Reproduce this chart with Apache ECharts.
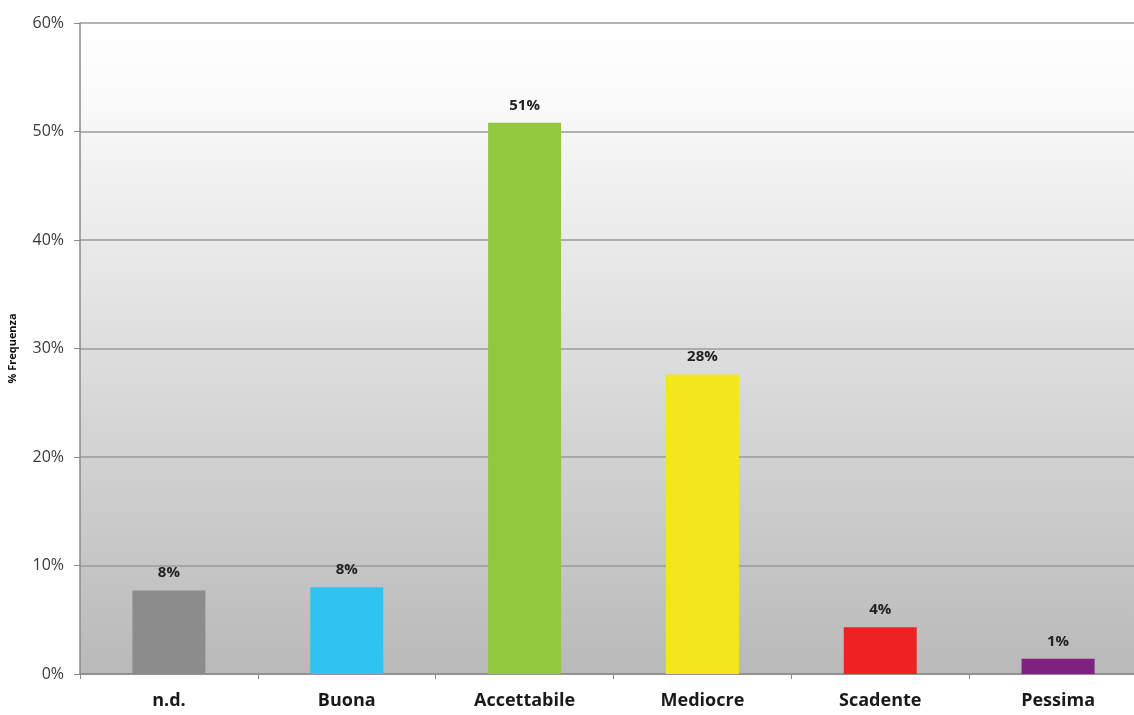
<!DOCTYPE html>
<html>
<head>
<meta charset="utf-8">
<script src="https://cdn.jsdelivr.net/npm/echarts@6/dist/echarts.min.js"></script>
<style>
  html, body { margin: 0; padding: 0; background: #fff; }
  #chart { width: 1134px; height: 715px; }
</style>
</head>
<body>
<div id="chart"></div>
<script>
// data
const categories = ['n.d.', 'Buona', 'Accettabile', 'Mediocre', 'Scadente', 'Pessima'];
const frequency = [7.7, 8.0, 50.8, 27.6, 4.3, 1.4];
const barColors = ['#8c8c8c', '#2ec3f1', '#92c83e', '#f2e71d', '#ee2222', '#7e2181'];
const yTicks = [0, 10, 20, 30, 40, 50, 60];

const chart = echarts.init(document.getElementById('chart'));

const option = {
    animation: false,
    grid: {
        left: 80,
        width: 1067,
        top: 23,
        bottom: 41,
        outerBoundsMode: 'none',
        show: true,
        borderWidth: 0,
        backgroundColor: {
            type: 'linear', x: 0, y: 0, x2: 0, y2: 1,
            colorStops: [
                {offset: 0, color: '#ffffff'},
                {offset: 0.1, color: '#fbfbfb'},
                {offset: 1, color: '#b9b9b9'}
            ]
        }
    },
    xAxis: {
        type: 'category',
        data: categories,
        axisLine: {lineStyle: {color: '#8a8a8a', width: 1.5}},
        axisTick: {show: true, length: 5, lineStyle: {color: '#8a8a8a'}},
        axisLabel: {
            color: '#1a1a1a',
            fontFamily: 'Open Sans',
            fontWeight: 'bold',
            fontSize: 18,
            margin: 18
        }
    },
    yAxis: {
        type: 'value',
        min: yTicks[0],
        max: yTicks[yTicks.length - 1],
        interval: 10,
        name: '% Frequenza',
        nameLocation: 'middle',
        nameGap: 62,
        nameRotate: 90,
        nameTextStyle: {
            color: '#111',
            fontFamily: 'Open Sans',
            fontWeight: 'bold',
            fontSize: 11
        },
        axisLine: {show: true, lineStyle: {color: '#8a8a8a', width: 1.5}},
        axisTick: {show: true, length: 6, lineStyle: {color: '#8a8a8a'}},
        splitLine: {lineStyle: {color: '#9a9a9a', width: 1.5}},
        axisLabel: {
            color: '#3a3a3a',
            fontFamily: 'Open Sans',
            fontSize: 16,
            margin: 16,
            formatter: v => v + '%'
        }
    },
    series: [{
        type: 'bar',
        barWidth: 73,
        data: frequency.map((v, i) => ({value: v, itemStyle: {color: barColors[i]}})),
        label: {
            show: true,
            position: 'top',
            distance: 10,
            color: '#222',
            fontFamily: 'Open Sans',
            fontWeight: 'bold',
            fontSize: 15,
            formatter: p => Math.round(p.value) + '%'
        }
    }]
};

chart.setOption(option);
</script>
</body>
</html>
